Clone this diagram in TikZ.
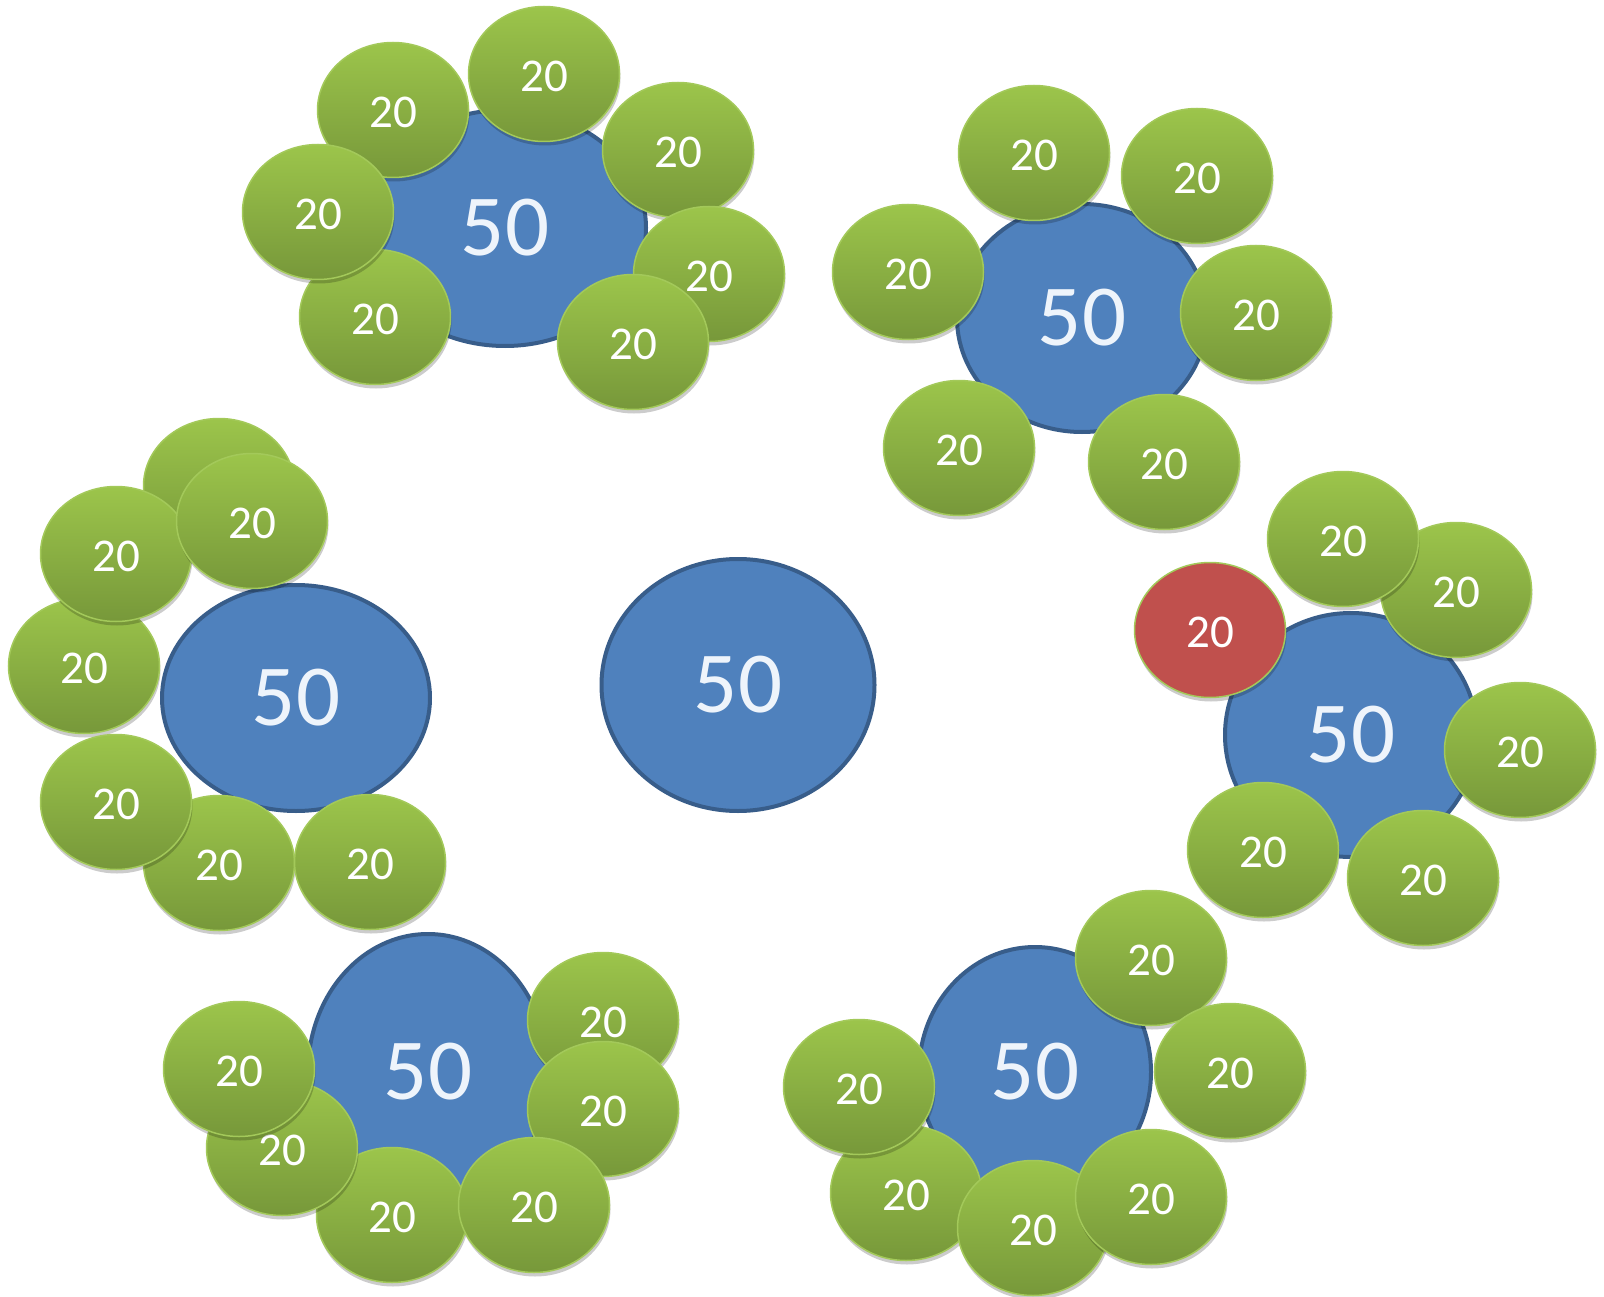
\documentclass[tikz,border=0pt]{standalone}
\usepackage{fontspec}
\setmainfont{Carlito}
\usetikzlibrary{shapes.geometric,shadows}
\definecolor{gtop}{HTML}{9CC54B}
\definecolor{gbot}{HTML}{77983A}
\definecolor{gline}{HTML}{A3C95A}
\definecolor{bfill}{HTML}{4F81BD}
\definecolor{bline}{HTML}{385D8A}
\definecolor{rfill}{HTML}{C0504D}
\definecolor{btext}{HTML}{EEF4FB}
\tikzset{
  ballbase/.style={ellipse, minimum width=151pt, minimum height=135pt, inner sep=0pt,
    draw=gline, line width=1.5pt, text=white, font=\fontsize{47}{50}\selectfont,
    text height=35pt, text depth=0pt,
    drop shadow={shadow xshift=1pt, shadow yshift=-4pt, opacity=0.2, fill=black}},
  gball/.style={ballbase, top color=gtop, bottom color=gbot},
  rball/.style={ballbase, fill=rfill},
  tablebox/.style={ellipse, inner sep=0pt, fill=bfill, draw=bline, line width=4pt,
    text=btext, font=\fontsize{87}{90}\selectfont}
}
\begin{document}
\begin{tikzpicture}[x=1pt,y=-1pt]
\useasboundingbox[fill=white] (0,0) rectangle (1604,1297);
% tables
\node[tablebox, minimum width=282pt, minimum height=236pt] (t1) at (505,228) {50};
\node[tablebox, minimum width=250pt, minimum height=228pt] (t2) at (1082,318) {50};
\node[tablebox, minimum width=252pt, minimum height=244pt] (t3) at (1351,735) {50};
\node[tablebox, minimum width=268pt, minimum height=226pt] (t4) at (296,698) {50};
\node[tablebox, minimum width=240pt, minimum height=276pt] (t5) at (428,1072) {50};
\node[tablebox, minimum width=232pt, minimum height=250pt] (t6) at (1035,1072) {50};
\node[tablebox, minimum width=273pt, minimum height=252pt] (t0) at (738,685) {50};
% group 1
\node[gball] (a1) at (375,317) {20};
\node[gball] (a2) at (393,110) {20};
\node[gball] (a3) at (318,212) {20};
\node[gball] (a4) at (544,74) {20};
\node[gball] (a5) at (678,150) {20};
\node[gball] (a6) at (709,274) {20};
\node[gball] (a7) at (633,342) {20};
% group 2
\node[gball] (b1) at (1034,153) {20};
\node[gball] (b2) at (1197,176) {20};
\node[gball] (b3) at (908,272) {20};
\node[gball] (b4) at (1256,313) {20};
\node[gball] (b5) at (959,448) {20};
\node[gball] (b6) at (1164,462) {20};
% group 3
\node[gball] (c1) at (1456,590) {20};
\node[gball] (c2) at (1343,539) {20};
\node[rball] (c3) at (1210,630) {20};
\node[gball] (c4) at (1520,750) {20};
\node[gball] (c5) at (1263,850) {20};
\node[gball] (c6) at (1423,878) {20};
% group 4
\node[gball] (d1) at (219,486) {};
\node[gball] (d2) at (84,666) {20};
\node[gball] (d3) at (116,554) {20};
\node[gball] (d4) at (252,521) {20};
\node[gball] (d5) at (219,863) {20};
\node[gball] (d6) at (116,802) {20};
\node[gball] (d7) at (370,862) {20};
% group 5
\node[gball] (e1) at (392,1215) {20};
\node[gball] (e2) at (282,1148) {20};
\node[gball] (e3) at (239,1069) {20};
\node[gball] (e4) at (603,1020) {20};
\node[gball] (e5) at (603,1109) {20};
\node[gball] (e6) at (534,1205) {20};
% group 6
\node[gball] (f1) at (906,1193) {20};
\node[gball] (f2) at (859,1087) {20};
\node[gball] (f3) at (1033,1228) {20};
\node[gball] (f4) at (1151,1197) {20};
\node[gball] (f5) at (1151,958) {20};
\node[gball] (f6) at (1230,1071) {20};
\end{tikzpicture}
\end{document}
